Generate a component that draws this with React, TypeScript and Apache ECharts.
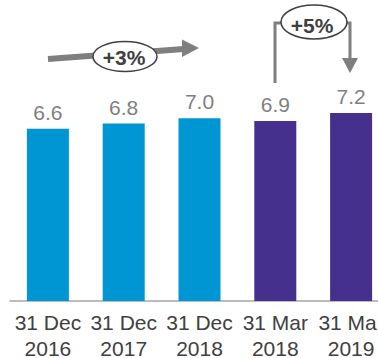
import React, { useEffect, useRef } from "react";
import * as echarts from "echarts";

const categories = ["31 Dec\n2016", "31 Dec\n2017", "31 Dec\n2018", "31 Mar\n2018", "31 Mar\n2019"];
const values = [6.6, 6.8, 7.0, 6.9, 7.2];
const barColors = ["#0095D3", "#0095D3", "#0095D3", "#46308E", "#46308E"];
const growthLabels = ["+3%", "+5%"];

const FONT = "'Liberation Sans', Arial, sans-serif";
const ARROW = "#7F7F7F";
const DARK = "#404040";

export default function App() {
  const ref = useRef<HTMLDivElement>(null);

  useEffect(() => {
    if (!ref.current) return;
    const chart = echarts.init(ref.current, null, { renderer: "svg" });

    chart.setOption({
      animation: false,
      backgroundColor: "#ffffff",
      grid: { left: 10, top: 40, width: 379, height: 261, outerBoundsMode: "none" },
      xAxis: {
        type: "category",
        data: categories,
        axisLine: { lineStyle: { color: "#A6A6A6", width: 1.5 } },
        axisTick: { show: false },
        axisLabel: {
          interval: 0,
          color: DARK,
          fontFamily: FONT,
          fontSize: 21,
          lineHeight: 26,
          margin: 8,
        },
      },
      yAxis: {
        type: "value",
        min: 0,
        max: 10,
        show: false,
        splitLine: { show: false },
      },
      series: [
        {
          type: "bar",
          barWidth: 42,
          data: values.map((v, i) => ({ value: v, itemStyle: { color: barColors[i] } })),
          label: {
            show: true,
            position: "top",
            distance: 6,
            color: "#7F7F7F",
            fontFamily: FONT,
            fontSize: 21,
            formatter: (p: any) => Number(p.value).toFixed(1),
          },
        },
      ],
      graphic: [
        // rising arrow across the December bars
        {
          type: "line",
          shape: { x1: 48, y1: 59, x2: 184, y2: 49 },
          style: { stroke: ARROW, lineWidth: 6 },
        },
        {
          type: "polygon",
          shape: { points: [[182, 39.5], [199, 48], [182, 57]] },
          style: { fill: ARROW },
        },
        {
          type: "ellipse",
          shape: { cx: 125, cy: 56.5, rx: 32, ry: 15 },
          style: { fill: "#ffffff", stroke: DARK, lineWidth: 1.5 },
        },
        {
          type: "text",
          x: 124,
          y: 57,
          style: {
            text: growthLabels[0],
            fill: DARK,
            font: `bold 21px ${FONT}`,
            align: "center",
            verticalAlign: "middle",
          },
        },
        // bracket arrow between the March bars
        {
          type: "polyline",
          shape: { points: [[275, 83], [275, 23], [290, 23]] },
          style: { stroke: ARROW, lineWidth: 3, fill: null },
        },
        {
          type: "polyline",
          shape: { points: [[335, 23], [350, 23], [350, 60]] },
          style: { stroke: ARROW, lineWidth: 3, fill: null },
        },
        {
          type: "polygon",
          shape: { points: [[342, 58], [358, 58], [350, 73]] },
          style: { fill: ARROW },
        },
        {
          type: "ellipse",
          shape: { cx: 314, cy: 22, rx: 33, ry: 17 },
          style: { fill: "#ffffff", stroke: DARK, lineWidth: 1.5 },
        },
        {
          type: "text",
          x: 312,
          y: 25,
          style: {
            text: growthLabels[1],
            fill: DARK,
            font: `bold 21px ${FONT}`,
            align: "center",
            verticalAlign: "middle",
          },
        },
      ],
    });

    return () => chart.dispose();
  }, []);

  return (
    <div
      ref={ref}
      style={{ position: "fixed", left: 0, top: 0, width: 378, height: 358, overflow: "hidden" }}
    />
  );
}
